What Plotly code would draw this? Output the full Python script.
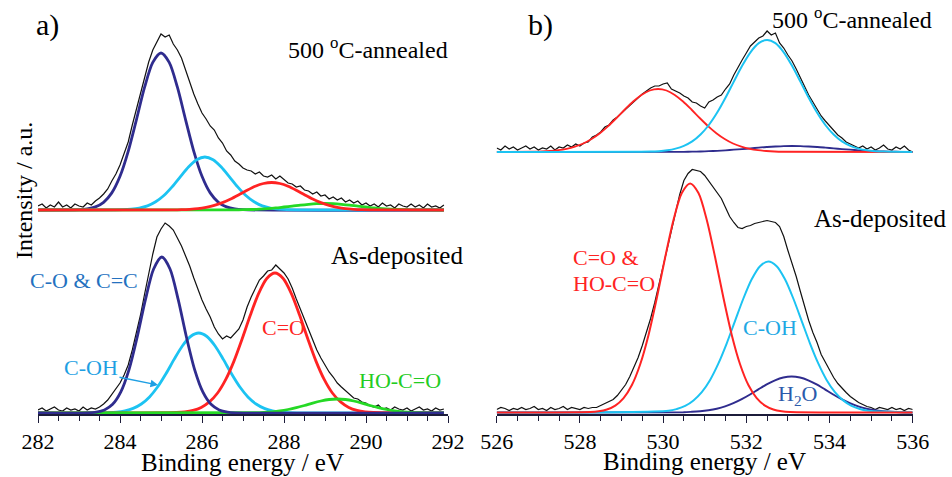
import plotly.graph_objects as go

# ------------------------------------------------------------------ data
# Panel a) C 1s, measured spectra sampled every 0.1 eV from 282.0 eV (intensity, a.u.)
a_e0 = 282.0
a_top_black = [4, 6, 2, 5, 3, 8, 3, 5, 2, 6,
               4, 3, 7, 5, 9, 12, 16, 21, 29, 36,
               45, 57, 68, 85, 101, 118, 134, 148, 160, 168,
               176, 173, 175, 166, 160, 152, 140, 127, 116, 106,
               97, 91, 84, 80, 72, 67, 59, 55, 49, 46,
               42, 40, 39, 36, 38, 34, 33, 35, 31, 34,
               30, 27, 26, 23, 24, 20, 19, 16, 18, 14,
               15, 11, 13, 10, 12, 8, 10, 7, 9, 5,
               7, 4, 6, 3, 7, 4, 5, 2, 6, 4,
               3, 6, 3, 5, 2, 6, 3, 4, 2, 5]
a_bot_black = [3, 5, 2, 4, 6, 3, 2, 5, 3, 4,
               2, 6, 3, 5, 4, 6, 9, 13, 19, 24,
               30, 38, 48, 63, 79, 98, 119, 140, 159, 176,
               184, 190, 187, 183, 175, 167, 157, 147, 135, 123,
               113, 104, 96, 86, 79, 74, 77, 75, 79, 84,
               93, 106, 116, 125, 133, 137, 142, 143, 148, 144,
               140, 134, 125, 114, 104, 93, 83, 73, 63, 55,
               48, 41, 36, 30, 26, 22, 19, 15, 14, 11,
               10, 7, 6, 8, 4, 5, 3, 6, 4, 3,
               5, 2, 4, 6, 3, 4, 2, 5, 3, 4]

# fitted components, sampled every 0.2 eV from the given start energy
a_top_cc_e0 = 283.0    # C-O & C=C
a_top_cc = [0.3, 1.1, 3.1, 7.7, 17.1, 33.7, 58.7, 90.2, 122.8, 147.6, 157,
            147.6, 122.8, 90.2, 58.7, 33.7, 17.1, 7.7, 3.1, 1.1, 0.3]
a_top_coh_e0 = 284.07  # C-OH
a_top_coh = [0.3, 0.8, 1.9, 4.1, 8.2, 14.5, 23.1, 33.2, 43.0, 50.3, 53,
             50.3, 43.0, 33.2, 23.1, 14.5, 8.2, 4.1, 1.9, 0.8, 0.3]
a_top_co_e0 = 285.3    # C=O
a_top_co = [0.1, 0.3, 0.7, 1.4, 2.7, 4.6, 7.4, 11.0, 15.3, 19.8, 23.8, 26.5, 27.5,
            26.5, 23.8, 19.8, 15.3, 11.0, 7.4, 4.6, 2.7, 1.4, 0.7, 0.3, 0.1]
a_top_hoco_e0 = 286.6  # HO-C=O
a_top_hoco = [0.07, 0.15, 0.3, 0.5, 0.9, 1.4, 2.1, 3.0, 3.9, 4.9, 5.7, 6.3, 6.5,
              6.3, 5.7, 4.9, 3.9, 3.0, 2.1, 1.4, 0.9, 0.5, 0.3, 0.15, 0.07]

a_bot_cc_e0 = 283.22
a_bot_cc = [0.2, 0.9, 3.1, 8.7, 21.1, 43.4, 76.0, 113.3, 144.0, 156,
            144.0, 113.3, 76.0, 43.4, 21.1, 8.7, 3.1, 0.9, 0.2]
a_bot_coh_e0 = 283.72
a_bot_coh = [0.4, 0.9, 2.2, 4.6, 9.0, 16.1, 26.2, 39.2, 53.6, 67.0, 76.5, 80,
             76.5, 67.0, 53.6, 39.2, 26.2, 16.1, 9.0, 4.6, 2.2, 0.9, 0.4]
a_bot_co_e0 = 285.38
a_bot_co = [0.5, 1.1, 2.6, 5.6, 11.1, 20.0, 33.6, 51.9, 74.2, 98.0, 119.4, 134.5, 140,
            134.5, 119.4, 98.0, 74.2, 51.9, 33.6, 20.0, 11.1, 5.6, 2.6, 1.1, 0.5]
a_bot_hoco_e0 = 287.3
a_bot_hoco = [0.3, 0.6, 1.2, 2.1, 3.5, 5.3, 7.5, 9.9, 12.0, 13.5, 14,
              13.5, 12.0, 9.9, 7.5, 5.3, 3.5, 2.1, 1.2, 0.6, 0.3]

# Panel b) O 1s, measured spectra sampled every 0.1 eV from 526.0 eV
b_e0 = 526.0
b_top_black = [4, 2, 6, 3, 5, 2, 4, 6, 3, 5,
               2, 4, 3, 6, 2, 5, 4, 7, 5, 8,
               6, 9, 10, 15, 17, 20, 25, 27, 32, 35,
               39, 43, 47, 51, 55, 58, 61, 64, 66, 66,
               68, 69, 63, 61, 59, 56, 54, 50, 49, 46,
               44, 50, 52, 55, 57, 63, 68, 77, 85, 92,
               99, 106, 110, 114, 116, 121, 117, 119, 109, 104,
               97, 91, 83, 74, 65, 57, 50, 43, 36, 31,
               26, 21, 17, 14, 10, 8, 6, 4, 6, 3,
               5, 2, 4, 7, 3, 2, 5, 3, 6, 2,
               0]
b_bot_black = [3, 5, 4, 2, 4, 3, 5, 3, 4, 6,
               3, 4, 2, 5, 3, 4, 6, 3, 5, 4,
               3, 5, 4, 5, 5, 7, 9, 11, 13, 17,
               22, 28, 36, 45, 55, 67, 80, 94, 110, 127,
               146, 164, 182, 200, 218, 232, 239, 243, 242, 241,
               237, 231, 226, 220, 214, 205, 196, 190, 185, 184,
               186, 187, 189, 190, 191, 192, 191, 190, 186, 176,
               162, 150, 136, 121, 106, 92, 80, 70, 58, 50,
               42, 35, 29, 24, 20, 16, 13, 10, 8, 6,
               5, 3, 5, 4, 3, 5, 3, 4, 2, 4,
               3]

b_top_co_e0 = 526.88   # C=O & HO-C=O
b_top_co = [0.25, 0.5, 1.0, 1.8, 3.2, 5.4, 8.5, 13.0, 18.8, 25.9, 34.0, 42.5, 50.5, 57.1, 61.5, 63,
            61.5, 57.1, 50.5, 42.5, 34.0, 25.9, 18.8, 13.0, 8.5, 5.4, 3.2, 1.8, 1.0, 0.5, 0.25]
b_top_coh_e0 = 529.7   # C-OH
b_top_coh = [0.4, 0.8, 1.7, 3.4, 6.2, 10.6, 17.5, 27.0, 39.4, 54.2, 70.4, 86.2, 99.7, 108.8, 112,
             108.8, 99.7, 86.2, 70.4, 54.2, 39.4, 27.0, 17.5, 10.6, 6.2, 3.4, 1.7, 0.8, 0.4]
b_top_h2o_e0 = 530.1   # H2O
b_top_h2o = [0.07, 0.1, 0.2, 0.3, 0.5, 0.8, 1.2, 1.7, 2.3, 2.9, 3.6, 4.4, 5.0, 5.5, 5.9, 6,
             5.9, 5.5, 5.0, 4.4, 3.6, 2.9, 2.3, 1.7, 1.2, 0.8, 0.5, 0.3, 0.2, 0.1, 0.07]

b_bot_co_e0 = 528.25
b_bot_co = [0.5, 1.2, 3.0, 6.9, 14.4, 27.5, 48.3, 77.6, 114.7, 155.3, 192.6, 219.4, 229,
            219.4, 192.6, 155.3, 114.7, 77.6, 48.3, 27.5, 14.4, 6.9, 3.0, 1.2, 0.5]
b_bot_coh_e0 = 530.13
b_bot_coh = [1.7, 3.5, 6.6, 12.1, 20.4, 32.6, 49.1, 69.2, 91.7, 114.0, 133.2, 146.3, 151,
             146.3, 133.2, 114.0, 91.7, 69.2, 49.1, 32.6, 20.4, 12.1, 6.6, 3.5, 1.7]
b_bot_h2o_e0 = 530.49
b_bot_h2o = [0.3, 0.7, 1.3, 2.3, 3.8, 6.1, 9.3, 13.3, 18.0, 23.1, 28.1, 32.2, 35.0, 36,
             35.0, 32.2, 28.1, 23.1, 18.0, 13.3, 9.3, 6.1, 3.8, 2.3, 1.3, 0.7, 0.3]

a_ticks = [282, 284, 286, 288, 290, 292]
b_ticks = [526, 528, 530, 532, 534, 536]

# ------------------------------------------------------------------ style
W, H = 952, 477
FONT = "Liberation Serif, 'DejaVu Serif', 'Times New Roman', serif"
NAVY = "#2f2c8e"
CYAN = "#1cc3f2"
RED = "#ff2323"
GREEN = "#25d925"
BLACK = "#111111"

AXIS_PX = 414.0            # pixel row of the energy axes
A_TOP_OFF, A_BOT_OFF = 204.0, 1.0
B_TOP_OFF, B_BOT_OFF = 262.0, 1.5


def measured(e0, vals, off):
    xs = [round(e0 + 0.1 * i, 3) for i in range(len(vals))]
    return xs, [off + v for v in vals]


def component(e0, vals, lo, hi, off):
    xs = [lo] + [round(e0 + 0.2 * i, 3) for i in range(len(vals))] + [hi]
    ys = [off] + [off + v for v in vals] + [off]
    return xs, ys


fig = go.Figure()


def add_black(e0, vals, off, ax):
    x, y = measured(e0, vals, off)
    fig.add_trace(go.Scatter(x=x, y=y, mode="lines", line=dict(color=BLACK, width=1.2),
                             xaxis=ax[0], yaxis=ax[1], showlegend=False, hoverinfo="skip"))


def add_comp(e0, vals, lo, hi, off, color, width, ax):
    x, y = component(e0, vals, lo, hi, off)
    fig.add_trace(go.Scatter(x=x, y=y, mode="lines",
                             line=dict(color=color, width=width, shape="spline", smoothing=0.8),
                             xaxis=ax[0], yaxis=ax[1], showlegend=False, hoverinfo="skip"))


AX_A = ("x", "y")
AX_B = ("x2", "y2")

# panel a, top (500 C annealed)
add_black(a_e0, a_top_black, A_TOP_OFF, AX_A)
add_comp(a_top_cc_e0, a_top_cc, 282.0, 291.9, A_TOP_OFF, NAVY, 2.8, AX_A)
add_comp(a_top_coh_e0, a_top_coh, 282.0, 291.9, A_TOP_OFF, CYAN, 2.8, AX_A)
add_comp(a_top_hoco_e0, a_top_hoco, 282.0, 291.9, A_TOP_OFF, GREEN, 2.8, AX_A)
add_comp(a_top_co_e0, a_top_co, 282.0, 291.9, A_TOP_OFF, RED, 2.8, AX_A)
# panel a, bottom (as-deposited)
add_black(a_e0, a_bot_black, A_BOT_OFF, AX_A)
add_comp(a_bot_coh_e0, a_bot_coh, 282.0, 291.9, A_BOT_OFF, CYAN, 2.8, AX_A)
add_comp(a_bot_co_e0, a_bot_co, 282.0, 291.9, A_BOT_OFF, RED, 2.8, AX_A)
add_comp(a_bot_hoco_e0, a_bot_hoco, 282.0, 291.9, A_BOT_OFF, GREEN, 2.8, AX_A)
add_comp(a_bot_cc_e0, a_bot_cc, 282.0, 291.9, A_BOT_OFF, NAVY, 2.8, AX_A)
# panel b, top
add_black(b_e0, b_top_black, B_TOP_OFF, AX_B)
add_comp(b_top_h2o_e0, b_top_h2o, 526.0, 536.0, B_TOP_OFF, NAVY, 1.8, AX_B)
add_comp(b_top_co_e0, b_top_co, 526.0, 536.0, B_TOP_OFF, RED, 1.8, AX_B)
add_comp(b_top_coh_e0, b_top_coh, 526.0, 536.0, B_TOP_OFF, CYAN, 2.0, AX_B)
# panel b, bottom
add_black(b_e0, b_bot_black, B_BOT_OFF, AX_B)
add_comp(b_bot_h2o_e0, b_bot_h2o, 526.0, 536.0, B_BOT_OFF, NAVY, 2.0, AX_B)
add_comp(b_bot_coh_e0, b_bot_coh, 526.0, 536.0, B_BOT_OFF, CYAN, 2.0, AX_B)
add_comp(b_bot_co_e0, b_bot_co, 526.0, 536.0, B_BOT_OFF, RED, 2.0, AX_B)

ydom = [(H - AXIS_PX) / H, 1.0]


def xaxis(dom, rng, ticks, anchor):
    return dict(domain=dom, range=rng, anchor=anchor, automargin=False,
                showline=True, linecolor="#1c1c3a",
                linewidth=1.6, ticks="outside", ticklen=7, tickwidth=1.4, tickcolor="#1c1c3a",
                tickmode="array", tickvals=ticks, ticktext=[str(t) for t in ticks],
                tickfont=dict(family=FONT, size=22, color="black"),
                minor=dict(dtick=0.5, tick0=rng[0], ticks="outside", ticklen=5,
                           tickwidth=1.2, tickcolor="#1c1c3a"),
                showgrid=False, zeroline=False, fixedrange=True)


def yaxis(anchor):
    return dict(domain=ydom, range=[0, AXIS_PX], visible=False, anchor=anchor,
                automargin=False, fixedrange=True)


def px(x):
    return x / W


def py(y):
    return 1 - y / H


annotations = []


def label(text, x, y, size, color="black", xanchor="center", angle=0):
    annotations.append(dict(text=text, x=px(x), y=py(y), xref="paper", yref="paper",
                            xanchor=xanchor, yanchor="middle", showarrow=False, textangle=angle,
                            font=dict(family=FONT, size=size, color=color)))


label("a)", 47, 25, 30)
label("b)", 540, 25, 30)
label("Intensity / a.u.", 24, 191, 24, angle=-90)
label("Binding energy / eV", 242, 462, 25)
label("Binding energy / eV", 704, 461, 25)
label("500 <sup>o</sup>C-annealed", 368, 48, 24)
label("500 <sup>o</sup>C-annealed", 852, 18, 24)
label("As-deposited", 397, 255, 25)
label("As-deposited", 880, 218, 25)
label("C-O &amp; C=C", 84, 280, 22, "#2471bf")
label("C-OH", 91, 367, 22, "#1e9fe3")
label("C=O", 283, 327, 22, RED)
label("HO-C=O", 400, 380, 22, "#22cc22")
label("C=O &amp;", 571, 257, 22, RED, xanchor="left")
label("HO-C=O", 571, 283, 22, RED, xanchor="left")
label("C-OH", 770, 327, 22, "#1ea8e4")
label("H<sub>2</sub>O", 797, 395, 22, "#2b5bab")

annotations.append(dict(text="", x=px(158), y=py(385), xref="paper", yref="paper",
                        ax=-40, ay=-8, showarrow=True, arrowhead=2, arrowsize=1,
                        arrowwidth=1.5, arrowcolor="#1e9fe3"))

fig.update_layout(
    width=W, height=H, margin=dict(l=0, r=0, t=0, b=0, pad=0, autoexpand=False),
    paper_bgcolor="white", plot_bgcolor="white",
    font=dict(family=FONT),
    xaxis=xaxis([38 / W, 448 / W], [282, 292], a_ticks, "y"),
    yaxis=yaxis("x"),
    xaxis2=xaxis([496.7 / W, 912.7 / W], [526, 536], b_ticks, "y2"),
    yaxis2=yaxis("x2"),
    annotations=annotations,
    showlegend=False,
)

fig.write_html("out.html")
